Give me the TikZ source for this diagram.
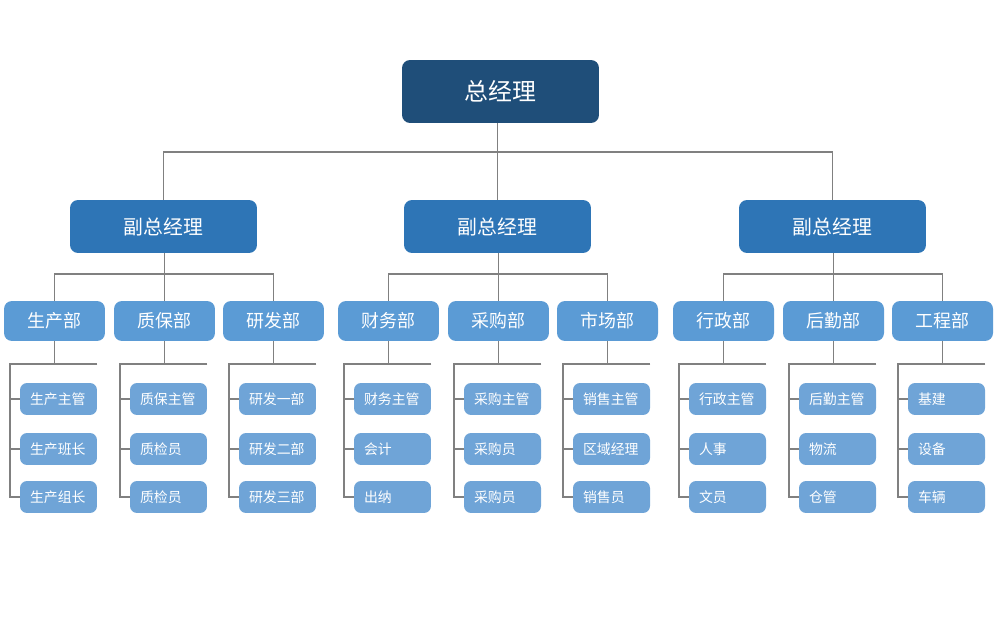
\documentclass[tikz,border=0pt]{standalone}
\usepackage{fontspec}
\setmainfont{Noto Sans CJK SC}
\usetikzlibrary{positioning}
\definecolor{gmblue}{HTML}{1F4E79}
\definecolor{vpblue}{HTML}{2E75B6}
\definecolor{deptblue}{HTML}{5B9BD5}
\definecolor{subblue}{HTML}{6FA4D7}
\definecolor{linegray}{HTML}{808080}
\tikzset{
  box/.style={rounded corners=0.16cm, text=white, inner sep=0pt, align=center},
  gmbox/.style={box, fill=gmblue, minimum width=3.94cm, minimum height=1.26cm, font=\fontsize{13.6}{16}\selectfont},
  vpbox/.style={box, fill=vpblue, minimum width=3.74cm, minimum height=1.06cm, font=\fontsize{11.3}{13}\selectfont},
  deptbox/.style={box, fill=deptblue, minimum width=2.02cm, minimum height=0.8cm, font=\fontsize{10.2}{12}\selectfont},
  subbox/.style={rounded corners=0.14cm, fill=subblue, text=white, minimum height=0.64cm, inner ysep=0pt, inner xsep=0.2cm, text width=1.14cm, align=left, font=\fontsize{7.9}{9}\selectfont},
  link/.style={draw=linegray, line width=1.1pt}
}
\begin{document}
\begin{tikzpicture}[x=0.02cm,y=-0.02cm]
\useasboundingbox (0,0) rectangle (1000,638);
% top
\node[gmbox] (gm) at (500.5,91.5) {总经理};
\node[vpbox] (vp1) at (163.5,226.5) {副总经理};
\node[vpbox] (vp2) at (497.5,226.5) {副总经理};
\node[vpbox] (vp3) at (832.5,226.5) {副总经理};
\draw[link] (vp1.north) -- ++(0,-48) -| (vp3.north);
\draw[link] (vp2.north) -- (vp2.north |- gm.south);
% departments and their staff
\foreach \i/\x/\t/\a/\b/\c in {
  1/54.5/生产部/生产主管/生产班长/生产组长,
  2/164.5/质保部/质保主管/质检员/质检员,
  3/273.5/研发部/研发一部/研发二部/研发三部,
  4/388.5/财务部/财务主管/会计/出纳,
  5/498.5/采购部/采购主管/采购员/采购员,
  6/607.5/市场部/销售主管/区域经理/销售员,
  7/723.5/行政部/行政主管/人事/文员,
  8/833.5/后勤部/后勤主管/物流/仓管,
  9/942.5/工程部/基建/设备/车辆}{
  \node[deptbox] (d\i) at (\x,321) {\t};
  \node[subbox] (s\i-1) at (\x+4,399) {\a};
  \node[subbox] (s\i-2) at (\x+4,449) {\b};
  \node[subbox] (s\i-3) at (\x+4,497) {\c};
  \path (d\i.south) ++(0,23) coordinate (t\i);
  \draw[link] (d\i.south) -- (t\i);
  \draw[link] (s\i-1.east |- t\i) -- (t\i -| s\i-1.west) -- ++(-10,0) |- (s\i-3.west);
  \draw[link] (s\i-1.west) -- ++(-10,0);
  \draw[link] (s\i-2.west) -- ++(-10,0);
}
% department buses
\draw[link] (d1.north) -- ++(0,-27) -| (d3.north);
\draw[link] (d2.north) -- (d2.north |- vp1.south);
\draw[link] (d4.north) -- ++(0,-27) -| (d6.north);
\draw[link] (d5.north) -- (d5.north |- vp2.south);
\draw[link] (d7.north) -- ++(0,-27) -| (d9.north);
\draw[link] (d8.north) -- (d8.north |- vp3.south);
\end{tikzpicture}
\end{document}
